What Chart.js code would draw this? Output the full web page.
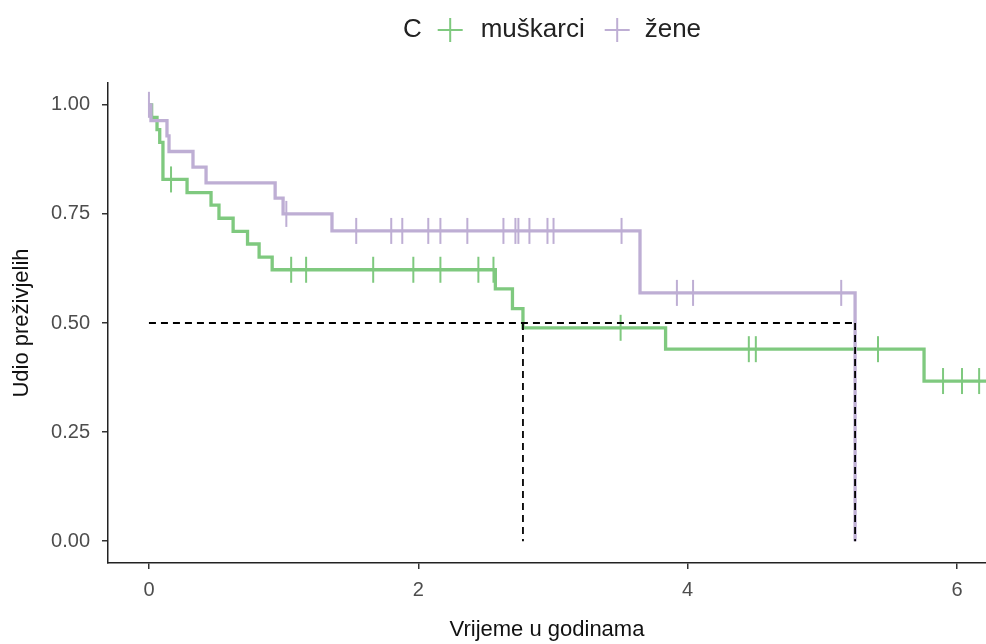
<!DOCTYPE html>
<html>
<head>
<meta charset="utf-8">
<script src="https://cdn.jsdelivr.net/npm/chart.js@4.4.1/dist/chart.umd.min.js"></script>
<style>
  html, body { margin: 0; padding: 0; background: #fff; }
  #wrap { width: 986px; height: 644px; }
</style>
</head>
<body>
<div id="wrap"><canvas id="km"></canvas></div>
<script>
// vremena dogadaja (godine) i udio prezivjelih nakon svakog dogadaja
const muskarciTime = [0.02, 0.06, 0.08, 0.104, 0.283, 0.461, 0.52, 0.625, 0.732, 0.818, 0.915, 2.572, 2.699, 2.777, 3.836, 5.755];
const muskarciSurv = [0.971, 0.943, 0.914, 0.829, 0.799, 0.770, 0.740, 0.710, 0.681, 0.651, 0.622, 0.578, 0.533, 0.489, 0.440, 0.367];
const muskarciCensor = [0.164, 1.056, 1.167, 1.665, 1.963, 2.164, 2.446, 2.558, 3.502, 4.454, 4.506, 5.413, 5.896, 6.037, 6.164];
const muskarciEnd = 6.3;

const zeneTime = [0.015, 0.134, 0.149, 0.327, 0.424, 0.937, 0.996, 1.359, 3.646, 5.243];
const zeneSurv = [0.964, 0.929, 0.893, 0.857, 0.821, 0.786, 0.750, 0.711, 0.569, 0];
const zeneCensor = [0, 1.02, 1.539, 1.799, 1.881, 2.074, 2.164, 2.364, 2.632, 2.721, 2.743, 2.825, 2.959, 3.004, 3.509, 3.92, 4.04, 5.14];
const zeneEnd = 5.243;

const medianTime = [2.777, 5.243]; // muškarci, žene
const seriesNames = ['muškarci', 'žene'];
const xTicks = [0, 2, 4, 6];
const yTicks = [0, 0.25, 0.5, 0.75, 1];

const GREEN = '#7FC97F';
const PURPLE = '#BEAED4';
const FONT = '"Liberation Sans", Arial, sans-serif';

// stepenasta krivulja: pocinje u (0, 1)
function curve(times, surv, end) {
  const pts = [{ x: 0, y: 1 }];
  times.forEach((t, i) => pts.push({ x: t, y: surv[i] }));
  if (end > times[times.length - 1]) pts.push({ x: end, y: surv[surv.length - 1] });
  return pts;
}

// cenzurirani na razini krivulje u tom trenutku
function censorPts(censor, times, surv) {
  return censor.map(t => {
    let s = 1;
    times.forEach((et, i) => { if (et <= t) s = surv[i]; });
    return { x: t, y: s };
  });
}

const dashed = {
  type: 'line',
  borderColor: '#000',
  borderDash: [7, 5],
  borderWidth: 1.8,
  pointRadius: 0,
  order: 0,
};

const legendPlugin = {
  id: 'kmLegend',
  afterDraw(chart) {
    const ctx = chart.ctx;
    ctx.save();
    ctx.font = '26px ' + FONT;
    ctx.textBaseline = 'middle';
    const items = [
      { text: 'C' },
      { cross: GREEN },
      { text: seriesNames[0] },
      { cross: PURPLE },
      { text: seriesNames[1] },
    ];
    const gaps = [16, 18, 20, 15];
    const crossW = 25;
    let total = 0;
    items.forEach((it, i) => {
      it.w = it.text ? ctx.measureText(it.text).width : crossW;
      total += it.w + (i < gaps.length ? gaps[i] : 0);
    });
    let x = 552 - total / 2;
    const y = 30;
    items.forEach((it, i) => {
      if (it.text) {
        ctx.fillStyle = '#222';
        ctx.textAlign = 'left';
        ctx.fillText(it.text, x, y);
      } else {
        ctx.strokeStyle = it.cross;
        ctx.lineWidth = 2;
        ctx.beginPath();
        ctx.moveTo(x, y);
        ctx.lineTo(x + crossW, y);
        ctx.moveTo(x + crossW / 2, y - 12);
        ctx.lineTo(x + crossW / 2, y + 12);
        ctx.stroke();
      }
      x += it.w + (i < gaps.length ? gaps[i] : 0);
    });
    ctx.restore();
  },
};

new Chart(document.getElementById('km'), {
  type: 'line',
  data: {
    datasets: [
      { ...dashed, data: [{ x: 0, y: 0.5 }, { x: medianTime[1], y: 0.5 }] },
      { ...dashed, data: [{ x: medianTime[0], y: 0.5 }, { x: medianTime[0], y: 0 }] },
      { ...dashed, data: [{ x: medianTime[1], y: 0.5 }, { x: medianTime[1], y: 0 }] },
      {
        type: 'scatter',
        label: seriesNames[1] + ' cenzura',
        data: censorPts(zeneCensor, zeneTime, zeneSurv),
        pointStyle: 'line',
        rotation: 90,
        pointRadius: 13,
        borderColor: PURPLE,
        borderWidth: 2,
        order: 1,
      },
      {
        type: 'scatter',
        label: seriesNames[0] + ' cenzura',
        data: censorPts(muskarciCensor, muskarciTime, muskarciSurv),
        pointStyle: 'line',
        rotation: 90,
        pointRadius: 13,
        borderColor: GREEN,
        borderWidth: 2,
        order: 1,
      },
      {
        label: seriesNames[1],
        data: curve(zeneTime, zeneSurv, zeneEnd),
        stepped: true,
        borderColor: PURPLE,
        borderWidth: 3.3,
        pointRadius: 0,
        order: 2,
      },
      {
        label: seriesNames[0],
        data: curve(muskarciTime, muskarciSurv, muskarciEnd),
        stepped: true,
        borderColor: GREEN,
        borderWidth: 3.3,
        pointRadius: 0,
        order: 3,
      },
    ],
  },
  options: {
    responsive: true,
    maintainAspectRatio: false,
    animation: false,
    layout: { autoPadding: false, padding: { top: 83, right: 0, bottom: 0, left: 0 } },
    plugins: {
      legend: { display: false },
      tooltip: { enabled: false },
    },
    scales: {
      x: {
        type: 'linear',
        min: -0.304,
        max: 6.215,
        afterBuildTicks: s => { s.ticks = xTicks.map(v => ({ value: v })); },
        afterFit: s => { s.height = 81; s.paddingLeft = 0; s.paddingRight = 0; },
        ticks: {
          color: '#4d4d4d',
          font: { size: 20, family: FONT },
          padding: 9,
          maxRotation: 0,
          autoSkip: false,
          callback: v => String(v),
        },
        grid: { drawOnChartArea: false, drawTicks: true, tickLength: 6, color: '#333', lineWidth: 1.5 },
        border: { display: true, color: '#222', width: 1.5 },
        title: {
          display: true,
          text: 'Vrijeme u godinama',
          color: '#111',
          font: { size: 22, family: FONT },
          padding: { top: 0, bottom: 1 },
        },
      },
      y: {
        min: -0.05,
        max: 1.05,
        afterBuildTicks: s => { s.ticks = yTicks.map(v => ({ value: v })); },
        afterFit: s => { s.width = 108; s.paddingTop = 0; s.paddingBottom = 0; },
        ticks: {
          color: '#4d4d4d',
          font: { size: 20, family: FONT },
          padding: 12,
          autoSkip: false,
          callback: v => v.toFixed(2),
        },
        grid: { drawOnChartArea: false, drawTicks: true, tickLength: 6, color: '#333', lineWidth: 1.5 },
        border: { display: true, color: '#222', width: 1.5 },
        title: {
          display: true,
          text: 'Udio preživjelih',
          color: '#111',
          font: { size: 22, family: FONT },
          padding: { top: 9, bottom: 0 },
        },
      },
    },
  },
  plugins: [legendPlugin],
});
</script>
</body>
</html>
